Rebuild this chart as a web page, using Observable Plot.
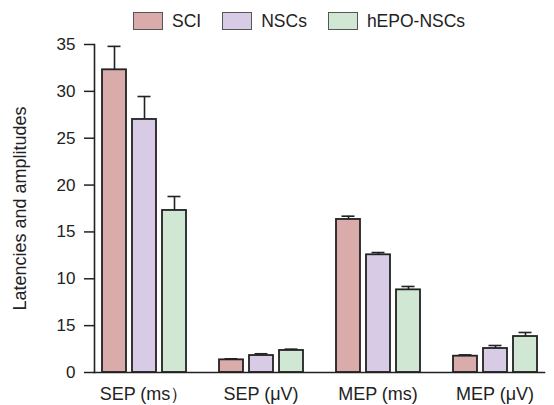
<!DOCTYPE html>
<html>
<head>
<meta charset="utf-8">
<script src="https://cdn.jsdelivr.net/npm/d3@7"></script>
<script src="https://cdn.jsdelivr.net/npm/@observablehq/plot@0.6"></script>
<style>
  html, body { margin: 0; padding: 0; background: #fff; }
  body { width: 554px; height: 405px; overflow: hidden; font-family: "Liberation Sans", Arial, sans-serif; }
  #legend { height: 36px; display: flex; align-items: center; padding-left: 133px; padding-top: 6px; box-sizing: border-box; gap: 21px; font-size: 17.5px; color: #222; }
  #legend .item { display: flex; align-items: center; gap: 9px; }
  #legend .sw { width: 30px; height: 18px; box-sizing: border-box; border: 1px solid #555; }
  #chart svg { display: block; }
</style>
</head>
<body>
<div id="legend"></div>
<div id="chart"></div>
<script>
// ---- data ----
const groups = ["SEP (ms）", "SEP (μV)", "MEP (ms)", "MEP (μV)"];
const series = ["SCI", "NSCs", "hEPO-NSCs"];
const sciValues  = [32.3, 1.35, 16.33, 1.74];
const sciErrors  = [2.5, 0.11, 0.35, 0.14];
const nscsValues = [27.0, 1.81, 12.56, 2.56];
const nscsErrors = [2.45, 0.19, 0.24, 0.32];
const hepoValues = [17.29, 2.35, 8.82, 3.84];
const hepoErrors = [1.49, 0.14, 0.36, 0.43];
const yTickValues = [0, 5, 10, 15, 20, 25, 30, 35];
const yTickLabels = ["0", "15", "10", "15", "20", "25", "30", "35"];
const colors = ["#d9abab", "#d8cbe5", "#d0e8d3"];
const yLabel = "Latencies and amplitudes";

// ---- table ----
const valueSets = [sciValues, nscsValues, hepoValues];
const errorSets = [sciErrors, nscsErrors, hepoErrors];
const rows = [];
groups.forEach((g, gi) => series.forEach((s, si) => {
  rows.push({group: g, series: s, value: valueSets[si][gi], err: errorSets[si][gi]});
}));

// ---- legend ----
const legend = document.getElementById("legend");
series.forEach((s, i) => {
  const item = document.createElement("div");
  item.className = "item";
  const sw = document.createElement("div");
  sw.className = "sw";
  sw.style.background = colors[i];
  const t = document.createElement("span");
  t.textContent = s;
  item.append(sw, t);
  legend.append(item);
});

// ---- chart ----
const ink = "#222";
const chart = Plot.plot({
  width: 554,
  height: 369,
  marginLeft: 83,
  marginRight: 0,
  marginTop: 8,
  marginBottom: 33,
  style: {fontFamily: "'Liberation Sans', Arial, sans-serif", color: ink, background: "#fff"},
  fx: {domain: groups, paddingInner: 0.157, paddingOuter: 0.08},
  x: {domain: series, padding: 0.2, axis: null},
  y: {domain: [0, 35]},
  color: {domain: series, range: colors},
  marks: [
    Plot.axisFx({anchor: "bottom", tickSize: 0, tickPadding: 15, fontSize: 18, label: null}),
    Plot.axisY({ticks: yTickValues, tickFormat: d => yTickLabels[yTickValues.indexOf(d)], tickSize: 10, tickPadding: 9, fontSize: 17, strokeWidth: 1.5, label: null}),
    Plot.axisY({ticks: [], tickSize: 0, fontSize: 18, label: yLabel, labelArrow: false, labelAnchor: "center", labelOffset: 81}),
    Plot.ruleX(rows, {fx: "group", x: "series", y1: "value", y2: d => d.value + d.err, stroke: ink, strokeWidth: 1.6}),
    Plot.tickY(rows, {fx: "group", x: "series", y: d => d.value + d.err, stroke: ink, strokeWidth: 1.6, insetLeft: 5.5, insetRight: 5.5}),
    Plot.barY(rows, {fx: "group", x: "series", y: "value", fill: "series", stroke: ink, strokeWidth: 1.8}),
    Plot.frame({anchor: "bottom", facet: "super", stroke: ink, strokeWidth: 1.6}),
    Plot.frame({anchor: "left", facet: "super", stroke: ink, strokeWidth: 1.6})
  ]
});
document.getElementById("chart").append(chart);
</script>
</body>
</html>
